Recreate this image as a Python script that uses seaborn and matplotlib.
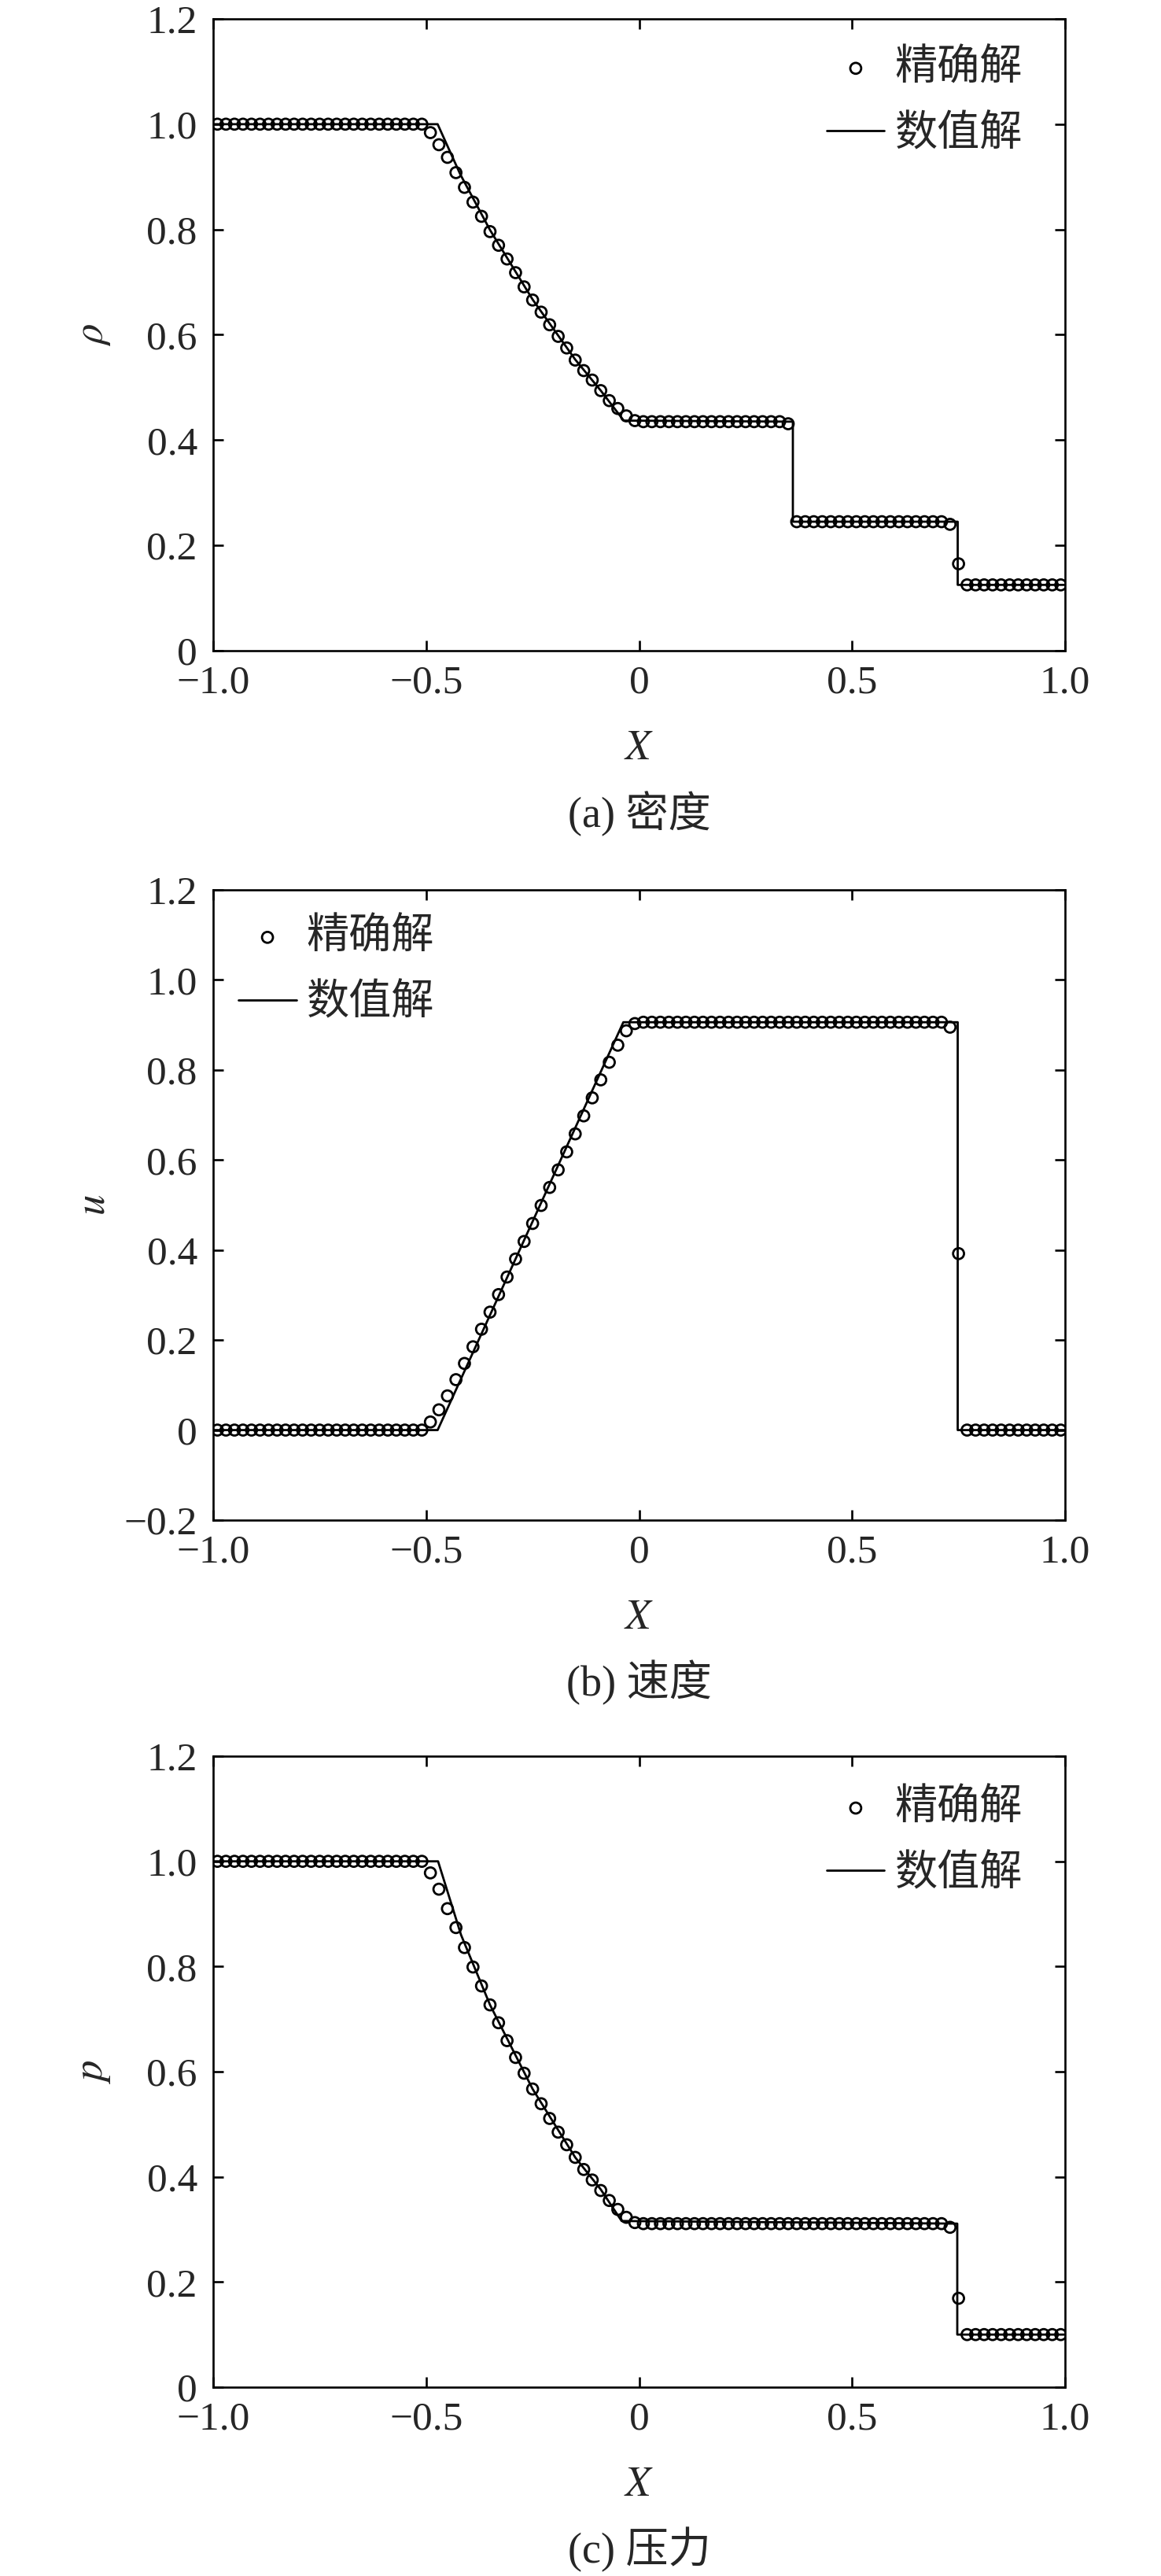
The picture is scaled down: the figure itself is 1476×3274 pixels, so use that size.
import numpy as np
import pandas as pd
import matplotlib
matplotlib.use("Agg")
import matplotlib.pyplot as plt
import seaborn as sns

# ---------------- data ----------------
x_exact = np.round(np.linspace(-0.99, 0.99, 100), 2)

rho_exact = [
    1.000, 1.000, 1.000, 1.000, 1.000, 1.000, 1.000, 1.000, 1.000, 1.000,
    1.000, 1.000, 1.000, 1.000, 1.000, 1.000, 1.000, 1.000, 1.000, 1.000,
    1.000, 1.000, 1.000, 1.000, 1.000, 0.984, 0.961, 0.937, 0.908, 0.880,
    0.852, 0.825, 0.796, 0.770, 0.744, 0.718, 0.691, 0.666, 0.643, 0.619,
    0.597, 0.575, 0.552, 0.532, 0.514, 0.494, 0.475, 0.460, 0.446, 0.437,
    0.435, 0.435, 0.435, 0.435, 0.435, 0.435, 0.435, 0.435, 0.435, 0.435,
    0.435, 0.435, 0.435, 0.435, 0.435, 0.435, 0.435, 0.431, 0.245, 0.245,
    0.245, 0.245, 0.245, 0.245, 0.245, 0.245, 0.245, 0.245, 0.245, 0.245,
    0.245, 0.245, 0.245, 0.245, 0.245, 0.245, 0.240, 0.165, 0.125, 0.125,
    0.125, 0.125, 0.125, 0.125, 0.125, 0.125, 0.125, 0.125, 0.125, 0.125,
]

u_exact = [
    0.000, 0.000, 0.000, 0.000, 0.000, 0.000, 0.000, 0.000, 0.000, 0.000,
    0.000, 0.000, 0.000, 0.000, 0.000, 0.000, 0.000, 0.000, 0.000, 0.000,
    0.000, 0.000, 0.000, 0.000, 0.000, 0.018, 0.045, 0.076, 0.112, 0.148,
    0.185, 0.224, 0.262, 0.301, 0.340, 0.380, 0.419, 0.459, 0.499, 0.539,
    0.578, 0.618, 0.658, 0.698, 0.738, 0.778, 0.817, 0.855, 0.887, 0.903,
    0.906, 0.906, 0.906, 0.906, 0.906, 0.906, 0.906, 0.906, 0.906, 0.906,
    0.906, 0.906, 0.906, 0.906, 0.906, 0.906, 0.906, 0.906, 0.906, 0.906,
    0.906, 0.906, 0.906, 0.906, 0.906, 0.906, 0.906, 0.906, 0.906, 0.906,
    0.906, 0.906, 0.906, 0.906, 0.906, 0.906, 0.895, 0.392, 0.000, 0.000,
    0.000, 0.000, 0.000, 0.000, 0.000, 0.000, 0.000, 0.000, 0.000, 0.000,
]

p_exact = [
    1.000, 1.000, 1.000, 1.000, 1.000, 1.000, 1.000, 1.000, 1.000, 1.000,
    1.000, 1.000, 1.000, 1.000, 1.000, 1.000, 1.000, 1.000, 1.000, 1.000,
    1.000, 1.000, 1.000, 1.000, 1.000, 0.978, 0.947, 0.910, 0.874, 0.836,
    0.799, 0.763, 0.727, 0.693, 0.659, 0.627, 0.597, 0.567, 0.539, 0.511,
    0.485, 0.461, 0.437, 0.414, 0.394, 0.374, 0.355, 0.338, 0.323, 0.313,
    0.311, 0.311, 0.311, 0.311, 0.311, 0.311, 0.311, 0.311, 0.311, 0.311,
    0.311, 0.311, 0.311, 0.311, 0.311, 0.311, 0.311, 0.311, 0.311, 0.311,
    0.311, 0.311, 0.311, 0.311, 0.311, 0.311, 0.311, 0.311, 0.311, 0.311,
    0.311, 0.311, 0.311, 0.311, 0.311, 0.311, 0.304, 0.169, 0.100, 0.100,
    0.100, 0.100, 0.100, 0.100, 0.100, 0.100, 0.100, 0.100, 0.100, 0.100,
]

# numerical solution (polyline vertices)
rho_num_x = [-1.0, -0.473, -0.42, -0.35, -0.25, -0.15, -0.09, -0.036, 0.361, 0.361, 0.748, 0.748, 1.0]
rho_num_y = [1.0, 1.0, 0.905, 0.799, 0.667, 0.553, 0.494, 0.437, 0.435, 0.245, 0.245, 0.125, 0.125]

u_num_x = [-1.0, -0.473, -0.037, 0.748, 0.748, 1.0]
u_num_y = [0.0, 0.0, 0.906, 0.906, 0.0, 0.0]

p_num_x = [-1.0, -0.472, -0.418, -0.35, -0.25, -0.15, -0.09, -0.041, 0.747, 0.747, 1.0]
p_num_y = [1.0, 1.0, 0.860, 0.727, 0.567, 0.437, 0.376, 0.316, 0.311, 0.100, 0.100]

x_ticks = [-1.0, -0.5, 0.0, 0.5, 1.0]
x_ticklabels = ["\u22121.0", "\u22120.5", "0", "0.5", "1.0"]
y_ticks = [0.0, 0.2, 0.4, 0.6, 0.8, 1.0, 1.2]
y_ticklabels = ["0", "0.2", "0.4", "0.6", "0.8", "1.0", "1.2"]
u_ticks = [-0.2, 0.0, 0.2, 0.4, 0.6, 0.8, 1.0, 1.2]
u_ticklabels = ["\u22120.2", "0", "0.2", "0.4", "0.6", "0.8", "1.0", "1.2"]

label_exact = "精确解"
label_num = "数值解"
ylabels = [r"$\rho$", r"$u$", r"$p$"]
captions = ["(a) 密度", "(b) 速度", "(c) 压力"]

# ---------------- style ----------------
sns.set_style("ticks")
plt.rcParams["font.family"] = ["Liberation Serif", "Noto Sans CJK SC"]
plt.rcParams["mathtext.fontset"] = "stix"
plt.rcParams["axes.linewidth"] = 1.9
plt.rcParams["axes.unicode_minus"] = True

fig = plt.figure(figsize=(14.76, 32.74), dpi=100)

ax_left = 271 / 1476
ax_w = 1083 / 1476
boxes = [
    (ax_left, (3274 - 827) / 3274, ax_w, 803 / 3274),
    (ax_left, (3274 - 1932) / 3274, ax_w, 801 / 3274),
    (ax_left, (3274 - 3034) / 3274, ax_w, 802 / 3274),
]

panels = [
    (rho_exact, rho_num_x, rho_num_y, y_ticks, y_ticklabels, (0.0, 1.2), "upper right", (0.950, 0.952)),
    (u_exact, u_num_x, u_num_y, u_ticks, u_ticklabels, (-0.2, 1.2), "upper left", (0.030, 0.955)),
    (p_exact, p_num_x, p_num_y, y_ticks, y_ticklabels, (0.0, 1.2), "upper right", (0.950, 0.948)),
]

for i, (ex, nx, ny, yt, ytl, ylim, loc, anchor) in enumerate(panels):
    ax = fig.add_axes(boxes[i])
    df_num = pd.DataFrame({"x": nx, "y": ny})
    df_ex = pd.DataFrame({"x": x_exact, "y": ex})
    sns.lineplot(data=df_num, x="x", y="y", ax=ax, estimator=None, sort=False,
                 color="black", linewidth=2.0, label=label_num)
    sns.scatterplot(data=df_ex, x="x", y="y", ax=ax, marker="o", s=100,
                    color="black", facecolors="none", edgecolor="black",
                    linewidth=2.0, label=label_exact, zorder=3)
    ax.set_xlim(-1.0, 1.0)
    ax.set_ylim(*ylim)
    ax.set_xticks(x_ticks)
    ax.set_xticklabels(x_ticklabels)
    ax.set_yticks(yt)
    ax.set_yticklabels(ytl)
    ax.tick_params(axis="both", which="major", direction="in", length=9.5,
                   width=1.9, labelsize=37, top=True, right=True, color="black")
    ax.tick_params(axis="x", pad=13)
    ax.tick_params(axis="y", pad=14.5)
    for sp in ax.spines.values():
        sp.set_visible(True)
        sp.set_linewidth(1.9)
        sp.set_color("black")

    ax.set_xlabel(r"$X$", fontsize=38)
    ax.xaxis.set_label_coords(0.5, -0.126)
    ax.set_ylabel(ylabels[i], fontsize=38)
    ax.yaxis.set_label_coords(-0.118, 0.5)

    handles, labels = ax.get_legend_handles_labels()
    hmap = dict(zip(labels, handles))
    ax.legend([hmap[label_exact], hmap[label_num]], [label_exact, label_num],
              loc=loc, bbox_to_anchor=anchor, frameon=False, fontsize=39,
              borderaxespad=0, borderpad=0, handlelength=1.35,
              handletextpad=0.24, labelspacing=0.62, scatterpoints=1)

    ax.text(0.5, -0.258, captions[i], transform=ax.transAxes, ha="center",
            va="center", fontsize=39)

fig.savefig("out.png", dpi=100)
